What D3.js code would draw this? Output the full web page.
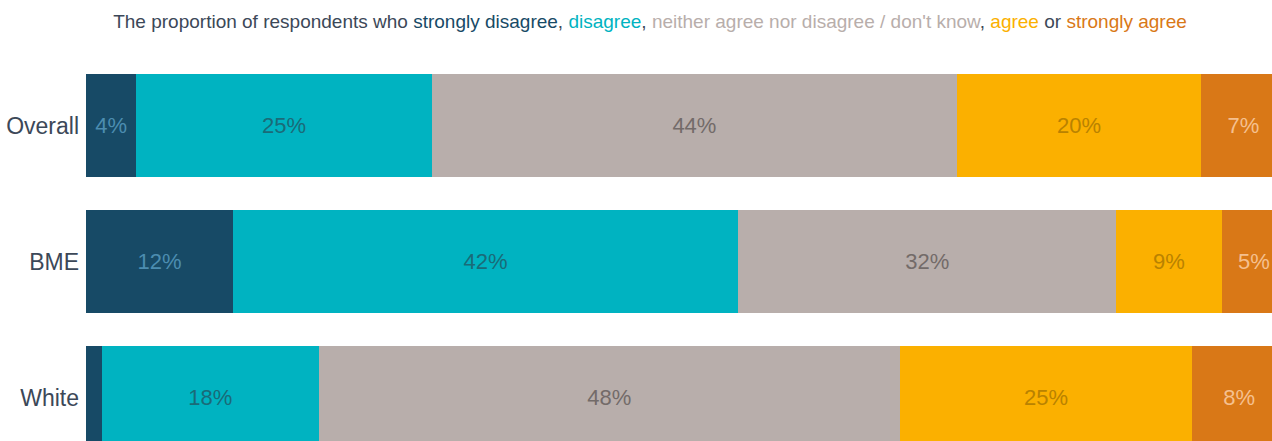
<!DOCTYPE html>
<html>
<head>
<meta charset="utf-8">
<script src="https://cdn.jsdelivr.net/npm/d3@7"></script>
<style>
  body { margin: 0; background: #fff; }
  svg { display: block; font-family: "Liberation Sans", Arial, sans-serif; }
</style>
</head>
<body>
<div id="chart"></div>
<script>
var groups = ["Overall", "BME", "White"];
var responses = ["strongly disagree", "disagree", "neither agree nor disagree / don't know", "agree", "strongly agree"];
var stronglyDisagree = [4.2, 12.25, 1.3];
var disagree = [24.6, 42.1, 18.1];
var neither = [43.8, 31.5, 48.4];
var agree = [20.3, 8.8, 24.4];
var stronglyAgree = [7.1, 5.35, 7.8];
var shownLabels = [["4%", "25%", "44%", "20%", "7%"],
                   ["12%", "42%", "32%", "9%", "5%"],
                   ["", "18%", "48%", "25%", "8%"]];

var fills = ["#174a66", "#00b3c1", "#b8aeab", "#fbb000", "#d97817"];
var labelColors = ["#4c8db0", "#1a6b78", "#736b69", "#b98200", "#f5c08f"];
var textDark = "#3c4858";

var width = 1272, height = 441;
var svg = d3.select("#chart").append("svg")
    .attr("width", width).attr("height", height);

// title, coloured by response
var title = svg.append("text")
    .attr("x", 650).attr("y", 28)
    .attr("text-anchor", "middle")
    .attr("font-size", 19)
    .attr("fill", textDark);
var parts = [["The proportion of respondents who ", textDark],
             [responses[0], fills[0]], [", ", textDark],
             [responses[1], fills[1]], [", ", textDark],
             [responses[2], fills[2]], [", ", textDark],
             [responses[3], fills[3]], [" or ", textDark],
             [responses[4], fills[4]]];
title.selectAll("tspan").data(parts).enter().append("tspan")
    .attr("fill", function(d) { return d[1]; })
    .text(function(d) { return d[0]; });

var x = d3.scaleLinear().domain([0, 100]).range([86, 1286]);
var y = d3.scaleBand().domain(groups).range([74, 449]).paddingInner(0.243).paddingOuter(0);

var rows = groups.map(function(g, i) {
    var vals = [stronglyDisagree[i], disagree[i], neither[i], agree[i], stronglyAgree[i]];
    var acc = 0;
    return vals.map(function(v, k) {
        var seg = { group: g, k: k, x0: acc, x1: acc + v, label: shownLabels[i][k] };
        acc += v;
        return seg;
    });
});

var row = svg.selectAll("g.row").data(rows).enter().append("g")
    .attr("class", "row")
    .attr("transform", function(d, i) { return "translate(0," + y(groups[i]) + ")"; });

row.selectAll("rect").data(function(d) { return d; }).enter().append("rect")
    .attr("x", function(d) { return x(d.x0); })
    .attr("width", function(d) { return x(d.x1) - x(d.x0); })
    .attr("height", y.bandwidth())
    .attr("shape-rendering", "crispEdges")
    .attr("fill", function(d) { return fills[d.k]; });

row.selectAll("text.val").data(function(d) { return d; }).enter().append("text")
    .attr("class", "val")
    .attr("x", function(d) { return (x(d.x0) + x(d.x1)) / 2; })
    .attr("y", y.bandwidth() / 2)
    .attr("dy", "0.35em")
    .attr("text-anchor", "middle")
    .attr("font-size", 22)
    .attr("fill", function(d) { return labelColors[d.k]; })
    .text(function(d) { return d.label; });

svg.selectAll("text.cat").data(groups).enter().append("text")
    .attr("class", "cat")
    .attr("x", 79)
    .attr("y", function(d) { return y(d) + y.bandwidth() / 2; })
    .attr("dy", "0.35em")
    .attr("text-anchor", "end")
    .attr("font-size", 23)
    .attr("fill", textDark)
    .text(function(d) { return d; });
</script>
</body>
</html>
